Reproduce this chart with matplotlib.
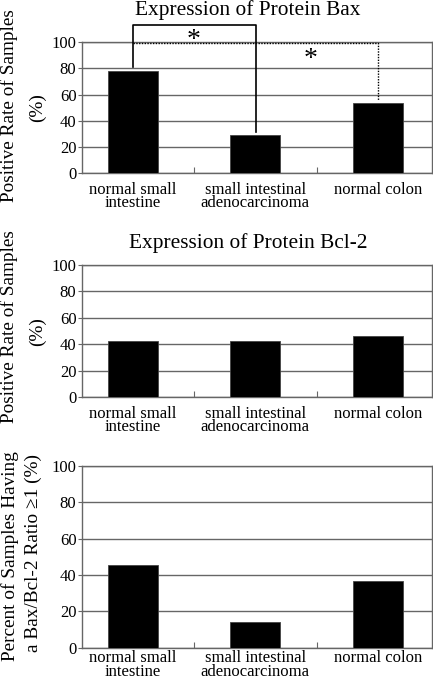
import matplotlib
matplotlib.use("Agg")
import matplotlib.pyplot as plt

plt.rcParams['font.family'] = ['Liberation Serif', 'DejaVu Serif']

# data
categories = ["normal small\nintestine", "small intestinal\nadenocarcinoma", "normal colon"]
bax = [78.1, 28.9, 53.8]
bcl2 = [42.6, 42.6, 46.3]
ratio = [45.3, 14.3, 36.8]

GRID = "#666666"
W, H = 433, 682

fig = plt.figure(figsize=(W / 100, H / 100), dpi=100)

# [left, bottom, width, height] in figure fraction
boxes = [
    [0.1894, 0.7459, 0.8075, 0.1925],
    [0.1894, 0.4175, 0.8075, 0.1939],
    [0.1894, 0.0503, 0.8075, 0.2668],
]
values = [bax, bcl2, ratio]
titles = ["Expression of Protein Bax", "Expression of Protein Bcl-2", None]
title_y = [10, 243, None]
xpads = [6, 6, 2]
ylabels = [("Positive Rate of Samples", "(%)"),
           ("Positive Rate of Samples", "(%)"),
           ("Percent of Samples Having", "a Bax/Bcl-2 Ratio \u22651 (%)")]
# pixel centres of the two label lines
ylab_pos = [((9, 106), (37, 108)), ((9, 327), (37, 332)), ((10, 556), (33, 553))]


def px(x, y):
    return x / W, 1 - y / H


axes = []
for box, vals, title, ty, xp, ylab, lp in zip(boxes, values, titles, title_y, xpads,
                                             ylabels, ylab_pos):
    ax = fig.add_axes(box)
    x = list(range(len(categories)))
    ax.bar(x, vals, width=0.41, color="black", edgecolor="#444444", linewidth=0.6, zorder=3)
    ax.set_xlim(-0.415, 2.44)
    ax.set_ylim(0, 100)
    ax.set_yticks([0, 20, 40, 60, 80, 100])
    ax.tick_params(axis="y", labelsize=12, length=3, width=0.8, color=GRID, pad=1)
    ax.set_xticks(x)
    ax.set_xticklabels(categories, fontsize=12, linespacing=0.82)
    ax.tick_params(axis="x", length=0, pad=xp)
    ax.set_xticks([0.5, 1.5], minor=True)
    ax.tick_params(axis="x", which="minor", direction="in", length=4, width=0.8, color=GRID)
    ax.yaxis.grid(True, color=GRID, linewidth=1.0, zorder=0)
    ax.set_axisbelow(True)
    for s in ax.spines.values():
        s.set_color(GRID)
        s.set_linewidth(1.0)
    if title:
        fig.text(*px(248, ty), title, fontsize=15.4, ha="center", va="center")
    for (lx, ly), txt in zip(lp, ylab):
        fig.text(*px(lx, ly), txt, rotation=90, fontsize=13.9, ha="center", va="center")
    axes.append(ax)

# significance brackets on the Bax panel
ax = axes[0]
ax.plot([0, 0, 1.005, 1.005], [81.2, 113, 113, 31.7], color="black", lw=1.2,
        clip_on=False, zorder=4)
ax.plot([0, 2.0, 2.0], [99.5, 99.5, 55.8], color="black", lw=1.0,
        ls=(0, (1, 1)), clip_on=False, zorder=4)
ax.text(0.5, 101, "*", fontsize=20, ha="center", va="center", clip_on=False)
ax.text(1.45, 87, "*", fontsize=20, ha="center", va="center")

fig.savefig("out.png", dpi=100)
